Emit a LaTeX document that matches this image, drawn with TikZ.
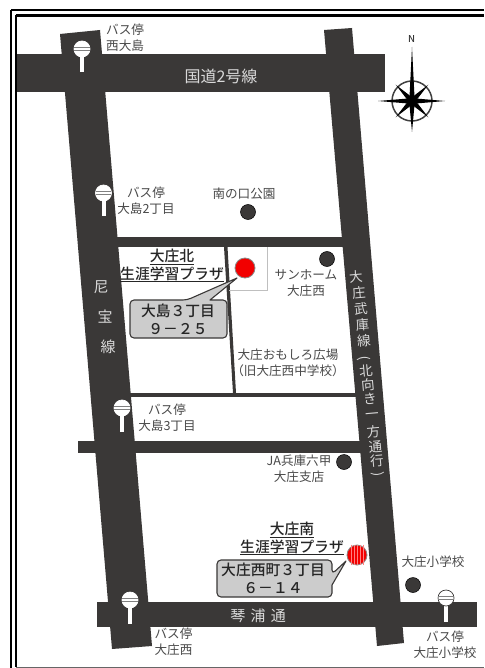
\documentclass[tikz,border=0pt]{standalone}
\usepackage{fontspec}
\setmainfont{Noto Sans CJK JP}[BoldFont={Noto Sans CJK JP Medium}]
\definecolor{road}{HTML}{3A3837}
\definecolor{txt}{HTML}{4A4A4A}
\definecolor{callout}{HTML}{CCCCCC}
\newcommand{\vlp}{(}
\newcommand{\vrp}{)}
\tikzset{
  x=1pt,y=-1pt,
  roadfill/.style={fill=road,draw=none},
  lbl/.style={text=txt,font=\fontsize{12.6}{16.3}\selectfont,align=center,inner sep=0pt},
  rlbl/.style={text=white!85!black,font=\fontsize{15}{17}\selectfont,inner sep=0pt},
  vlbl/.style={text=white!85!black,font=\fontsize{13.5}{15}\selectfont,inner sep=0pt},
  blbl/.style={text=black!85,font=\bfseries\fontsize{14.8}{17.8}\selectfont,align=center,inner sep=0pt},
  dot/.style={circle,fill=road,draw=black,line width=0.5pt,minimum size=15pt,inner sep=0pt},
  calloutbox/.style={fill=callout,draw=road,line width=1.1pt,line join=round},
  pin/.style={circle,fill=red!95!black,draw=road!60,line width=0.8pt,minimum size=20pt,inner sep=0pt},
}
\newcommand{\busstop}[4][white]{%
  \fill[white] (#2-2,#3) rectangle (#2+2,#3+#4);
  \fill[white,draw=#1,line width=0.7pt] (#2,#3) circle (8);
  \draw[gray,line width=0.8pt] (#2-7.6,#3-1.6) -- (#2+7.6,#3-1.6) (#2-7.6,#3+1.6) -- (#2+7.6,#3+1.6);
}
\begin{document}
\begin{tikzpicture}
\useasboundingbox (0,0) rectangle (484,668);
\fill[white] (0,0) rectangle (484,668);
% frame
\draw[black,line width=2pt] (11,10.5) -- (484,10.5) (11,10.5) -- (11,668);
\draw[black,line width=2.4pt] (15.8,15.5) -- (484,15.5) (15.8,15.5) -- (15.8,667);
\draw[black!60,line width=1pt] (15.8,667) -- (484,667);
% roads
\fill[roadfill] (60,34) -- (100,30) -- (152,646) -- (112,649) -- cycle;
\fill[roadfill] (324,30) -- (352,28) -- (404,643) -- (377,646) -- cycle;
\fill[roadfill] (17,54) rectangle (385,92);
\fill[roadfill] (97,602) rectangle (477,627);
\fill[roadfill] (78,441) rectangle (370,453);
\fill[roadfill] (110,237) rectangle (350,247);
\fill[roadfill] (120,393) rectangle (360,397);
\fill[roadfill] (224,247) -- (227.5,247) -- (236,393) -- (233,393) -- cycle;
% light box
\draw[gray!50,line width=0.8pt] (267,247) -- (267,290) -- (229,290);
% road labels
\node[rlbl,font=\fontsize{16}{17}\selectfont] (kokudo) at (221,76) {国道2号線};
\node[rlbl] (koto) at (258,616) {琴\hspace{0.35em}浦\hspace{0.35em}通};
\node[rlbl] (ama1) at (101,287) {尼};
\node[rlbl] (ama2) at (105,317) {宝};
\node[rlbl] (ama3) at (108,347) {線};
\foreach \c/\px/\py/\r [count=\i] in {大/356/277/5,庄/359/293/5,武/361/309/5,庫/362.5/325/5,線/364/341/5,\vlp/364/358/-85,北/366/371/5,向/368/385/5,き/370/399/5,一/372/416/5,方/373.5/432/5,通/375.5/446.5/5,行/377/461/5,\vrp/377.5/474/-85}
  \node[vlbl,rotate=\r,name=v\i] at (\px,\py) {\c};
% bus stops
\busstop{82}{49}{23}
\busstop{103.5}{193}{23}
\busstop{122}{408}{24}
\busstop{130}{600}{24}
\busstop[road]{446}{598}{24}
% labels
\node[lbl,anchor=west] (bs1) at (106,38) {バス停\\西大島};
\node[lbl] (bs2) at (146,201) {バス停\\大島2丁目};
\node[lbl] (bs3) at (167,418) {バス停\\大島3丁目};
\node[lbl] (bs4) at (173.5,642) {バス停\\大庄西};
\node[lbl] (bs5) at (445,645) {バス停\\大庄小学校};
\node[lbl] (park) at (244,194) {南の口公園};
\node[dot] (dpark) at (248,212) {};
\node[dot] (dsun) at (327,259) {};
\node[lbl] (sun) at (306,283) {サンホーム\\大庄西};
\node[lbl] (omo) at (288,363) {大庄おもしろ広場\\（旧大庄西中学校）};
\node[dot] (dja) at (344,462) {};
\node[lbl] (ja) at (299,469) {JA兵庫六甲\\大庄支店};
\node[dot] (dsho) at (413,585) {};
\node[lbl] (sho) at (433,562) {大庄小学校};
% callouts
\draw[calloutbox,rounded corners=4pt] (130,300) -- (187,300) [sharp corners] -- (237,278) -- (210,300) [rounded corners=4pt] -- (227,300) -- (227,338) -- (130,338) -- cycle;
\draw[calloutbox,rounded corners=4pt] (217,560) -- (332,560) -- (332,574) [sharp corners] -- (346,561) -- (332,585) [rounded corners=4pt] -- (332,597) -- (217,597) -- cycle;
\node[blbl] (c1) at (178,319) {大島３丁目\\９－２５};
\node[blbl] (c2) at (273,578) {大庄西町３丁目\\６－１４};
\node[blbl] (n1) at (172,265.5) {\underline{大庄北}\\\underline{生涯学習プラザ}};
\node[blbl] (n2) at (292,538.5) {\underline{大庄南}\\\underline{生涯学習プラザ}};
% pins
\node[pin] (p1) at (245,268) {};
\node[pin] (p2) at (357,555) {};
\foreach \d in {-6,-3,0,3,6} \draw[white!50!red,line width=0.3pt] ([xshift=\d pt]p2.north) -- ([xshift=\d pt]p2.south);
% compass
\coordinate (cc) at (412,101);
\draw[black!75,line width=1.5pt] (cc) circle (20);
\fill (412,47) -- (414.5,97) -- (409.5,97) -- cycle;
\fill (412,132) -- (414.5,105) -- (409.5,105) -- cycle;
\fill (378,101) -- (408,98.5) -- (408,103.5) -- cycle;
\fill (445,101) -- (416,98.5) -- (416,103.5) -- cycle;
\foreach \a in {45,135,225,315}
  \fill (cc) +(\a:23) -- +(\a+90:3) -- +(\a-90:3) -- cycle;
\fill (cc) circle (5.5);
\node[inner sep=0pt,text=black!80,font=\bfseries\fontsize{9.5}{9.5}\selectfont] (north) at (411.5,39) {N};
\end{tikzpicture}
\end{document}
